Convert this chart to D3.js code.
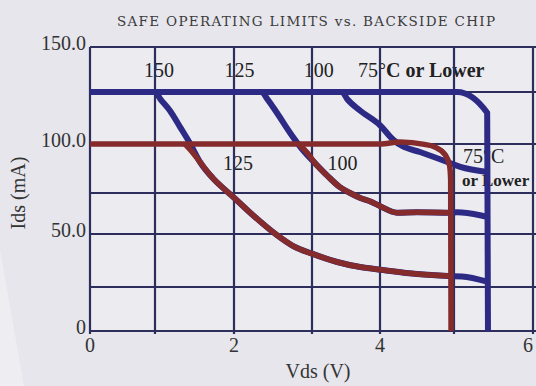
<!DOCTYPE html>
<html><head><meta charset="utf-8">
<script src="https://cdn.jsdelivr.net/npm/d3@7"></script>
<style>html,body{margin:0;padding:0;background:#e6e6ec;}svg{display:block;}</style>
</head><body>
<svg id="c" width="536" height="386"></svg>
<script>
// ---- data ----
const title = "SAFE OPERATING LIMITS vs. BACKSIDE CHIP";
const xLabel = "Vds (V)";
const yLabel = "Ids (mA)";
const xGridValues = [0, 1, 2, 3, 4, 5, 6];
const yGridValues = [0, 25, 50, 75, 100, 125, 150];
const xTickValues = [0, 2, 4, 6];
const xTickLabels = ["0", "2", "4", "6"];
const yTickValues = [0, 50, 100, 150];
const yTickLabels = ["0", "50.0", "100.0", "150.0"];

// without backside heat sink (blue), [Vds, Ids]
const blue150 = [[0,125],[1.0,125],[1.07,121.5],[1.19,116],[1.32,108],[1.44,100.5],[1.57,90.8],[1.73,82.7],[1.86,77.6],[1.99,72.6],[2.24,61.6],[2.55,49.5],[2.76,44.3],[3.01,40.6],[3.37,36.8],[3.71,34.4],[4.04,33],[4.5,31.1],[4.92,30.2],[5.1,30],[5.42,27.5]];
const blue125 = [[0,125],[2.35,125],[2.43,121.5],[2.55,115],[2.72,105.3],[2.88,97],[3.05,90],[3.22,84],[3.41,78],[3.56,75],[3.71,72],[3.85,70],[4.0,67],[4.23,63],[4.5,63.2],[4.92,63],[5.04,63.2],[5.37,61],[5.42,60.5]];
const blue100 = [[0,125],[3.44,125],[3.52,121.5],[3.71,116],[4.0,109],[4.18,102],[4.3,99],[4.54,95.9],[4.91,90.8],[5.08,88.3],[5.42,85.7]];
const blue75 = [[0,125],[5.04,125],[5.42,115],[5.4301,0]];
// with backside heat sink (red)
const red125 = [[1.38,100],[1.46,96.5],[1.57,90.8],[1.73,82.7],[1.86,77.6],[1.99,72.6],[2.24,61.6],[2.55,49.5],[2.76,44.3],[3.01,40.6],[3.37,36.8],[3.71,34.4],[4.04,33],[4.5,31.1],[4.94,30.2]];
const red100 = [[2.83,100],[2.95,95],[3.05,90],[3.22,84],[3.41,78],[3.56,75],[3.71,72],[3.85,70],[4.0,67],[4.23,63],[4.5,63.2],[4.94,63]];
const red75 = [[0,100],[4.0,100],[4.27,101],[4.6,99.8],[4.74,98.5],[4.88,94.5],[4.94,89],[4.955,82],[4.9601,0]];

const blueSeries = [blue150, blue125, blue100, blue75];
const redSeries = [red125, red100, red75];
const blueLabels = [{t:"150", v:1.05}, {t:"125", v:2.07}, {t:"100", v:3.1}];
const redLabels = [{t:"125", v:2.05}, {t:"100", v:3.45}];

// ---- drawing ----
const svg = d3.select("#c");
const x = d3.scaleLinear().domain(xGridValues).range([90,155,234,312,380,454,533]);
const y = d3.scaleLinear().domain(yGridValues).range([331,287,234,193,144,92,47]);

const BLUE = "#2d2a86", RED = "#852b2b", GRID = "#2e2e5c";

svg.append("rect").attr("width",536).attr("height",386).attr("fill","#e6e6ec");
svg.append("path").attr("d","M0,250 L0,386 L24,386 Z").attr("fill","#eeeef2");
svg.append("rect").attr("x",x(0)).attr("y",y(150)).attr("width",536-x(0)).attr("height",y(0)-y(150)).attr("fill","#ebebf0");

// title
svg.append("text").attr("x",306).attr("y",26).attr("text-anchor","middle")
  .attr("font-family","DejaVu Serif").attr("font-size",13.5).attr("fill","#3a3a3a")
  .attr("textLength",378).attr("lengthAdjust","spacing").text(title);

const serif = "Liberation Serif";
// tick labels
svg.selectAll(".yt").data(yTickValues).enter().append("text")
  .attr("x",86).attr("y",(d)=>y(d)+3).attr("text-anchor","end")
  .attr("font-family",serif).attr("font-size",20).attr("fill","#333")
  .text((d,i)=>yTickLabels[i]);
svg.selectAll(".xt").data(xTickValues).enter().append("text")
  .attr("x",d=>Math.min(x(d),528)).attr("y",352).attr("text-anchor","middle")
  .attr("font-family",serif).attr("font-size",20).attr("fill","#333")
  .text((d,i)=>xTickLabels[i]);
svg.append("text").attr("x",318).attr("y",378).attr("text-anchor","middle")
  .attr("font-family",serif).attr("font-size",20).attr("fill","#333").text(xLabel);
svg.append("text").attr("transform","translate(25,193) rotate(-90)").attr("text-anchor","middle")
  .attr("font-family",serif).attr("font-size",20).attr("fill","#333").text(yLabel);

// in-plot labels (under the grid)
const lab = svg.append("g").attr("font-family",serif).attr("font-size",20).attr("fill","#222");
lab.selectAll(".bl").data(blueLabels).enter().append("text")
  .attr("x",d=>x(d.v)).attr("y",77).attr("text-anchor","middle").text(d=>d.t);
const t1 = lab.append("text").attr("x",358).attr("y",77);
t1.append("tspan").text("75°");
t1.append("tspan").attr("font-weight","bold").text("C or Lower");
lab.selectAll(".rl").data(redLabels).enter().append("text")
  .attr("x",d=>x(d.v)).attr("y",170).attr("text-anchor","middle").text(d=>d.t);
lab.append("text").attr("x",463).attr("y",163).text("75°C");
lab.append("text").attr("x",462).attr("y",186).attr("font-weight","bold")
  .attr("font-size",17).text("or Lower");

// grid
const g = svg.append("g").attr("stroke",GRID).attr("stroke-width",2.2);
g.selectAll(".vg").data(xGridValues).enter().append("line")
  .attr("x1",d=>x(d)).attr("x2",d=>x(d)).attr("y1",y(150)).attr("y2",y(0)+3);
g.selectAll(".hg").data(yGridValues).enter().append("line")
  .attr("x1",x(0)).attr("x2",536).attr("y1",d=>y(d)).attr("y2",d=>y(d));

const line = d3.line().x(d=>x(d[0])).y(d=>y(d[1])).curve(d3.curveMonotoneX);
svg.append("g").selectAll("path").data(blueSeries).enter().append("path")
  .attr("d",line).attr("fill","none").attr("stroke",BLUE).attr("stroke-width",6)
  .attr("stroke-linejoin","round");
svg.append("g").selectAll("path").data(redSeries).enter().append("path")
  .attr("d",line).attr("fill","none").attr("stroke",RED).attr("stroke-width",5.5)
  .attr("stroke-linejoin","round");
</script>
</body></html>
